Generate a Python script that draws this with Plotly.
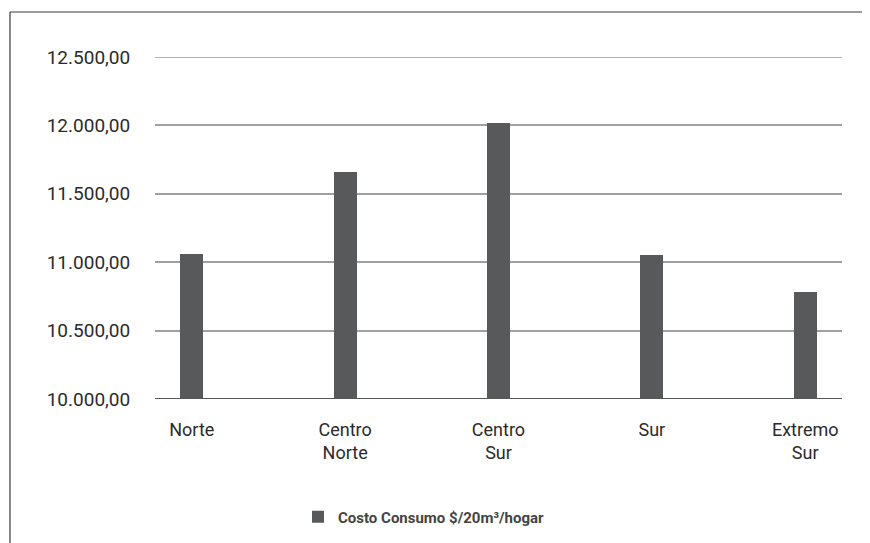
import plotly.graph_objects as go

# data
regiones = ["Norte", "Centro<br>Norte", "Centro<br>Sur", "Sur", "Extremo<br>Sur"]
costo = [11060, 11660, 12020, 11055, 10780]
serie = "Costo Consumo $/20m³/hogar"
y_ticks = [10000, 10500, 11000, 11500, 12000, 12500]

OFF = 8  # the page body adds an 8px margin, shift everything back
W, H = 870 + OFF, 543 + OFF
pw, ph = 687, 342
L, T = 155 - OFF, 57 - OFF
R, B = W - L - pw, H - T - ph


def px_x(p):
    return (p - OFF - L) / pw


def px_y(p):
    return (T + ph - (p - OFF)) / ph


fig = go.Figure()
fig.add_trace(go.Bar(
    x=list(range(len(regiones))), y=costo, name=serie,
    marker=dict(color="#58595b", line=dict(width=0)),
    width=0.15, showlegend=True,
))

# outer frame (clipped at right and bottom like the reference)
fig.add_shape(type="line", xref="paper", yref="paper",
              x0=px_x(10), x1=px_x(W + 20), y0=px_y(12), y1=px_y(12),
              line=dict(color="#3a3a3a", width=1.2))
fig.add_shape(type="line", xref="paper", yref="paper",
              x0=px_x(10), x1=px_x(10), y0=px_y(12), y1=px_y(H + 20),
              line=dict(color="#3a3a3a", width=1.2))

# top gridline sits on the edge of the plot, plotly skips it
fig.add_shape(type="line", xref="paper", yref="y", x0=0, x1=1,
              y0=y_ticks[-1], y1=y_ticks[-1],
              line=dict(color="#9a9a9a", width=1.5))

fig.update_layout(
    width=W, height=H,
    margin=dict(l=L, r=R, t=T, b=B),
    paper_bgcolor="white", plot_bgcolor="white",
    separators=",.",
    font=dict(family="Roboto, sans-serif", color="#2b2b2b", size=19),
    bargap=0,
    xaxis=dict(
        range=[-0.24, 4.24],
        tickmode="array", tickvals=list(range(len(regiones))), ticktext=regiones,
        showgrid=False, showline=False, zeroline=False,
        ticks="outside", ticklen=14, tickcolor="rgba(0,0,0,0)",
        tickfont=dict(size=18, color="#2b2b2b"),
        fixedrange=True,
    ),
    yaxis=dict(
        range=[10000, 12500],
        tickmode="array", tickvals=y_ticks, tickformat=",.2f",
        showgrid=True, gridcolor="#a0a0a0", gridwidth=1.5,
        zeroline=False, showline=False,
        ticks="outside", ticklen=20, tickcolor="rgba(0,0,0,0)",
        tickfont=dict(size=19, color="#2b2b2b"),
        fixedrange=True,
    ),
    legend=dict(
        orientation="h", x=px_x(298), xanchor="left",
        y=px_y(517), yanchor="middle",
        font=dict(size=15, color="#444444", family="Roboto, sans-serif", weight="bold"),
        bgcolor="rgba(0,0,0,0)",
    ),
)

# darker baseline at 10.000,00
fig.add_shape(type="line", xref="paper", yref="y", x0=0, x1=1, y0=10000, y1=10000,
              line=dict(color="#555555", width=2))

fig.write_html("out.html")
